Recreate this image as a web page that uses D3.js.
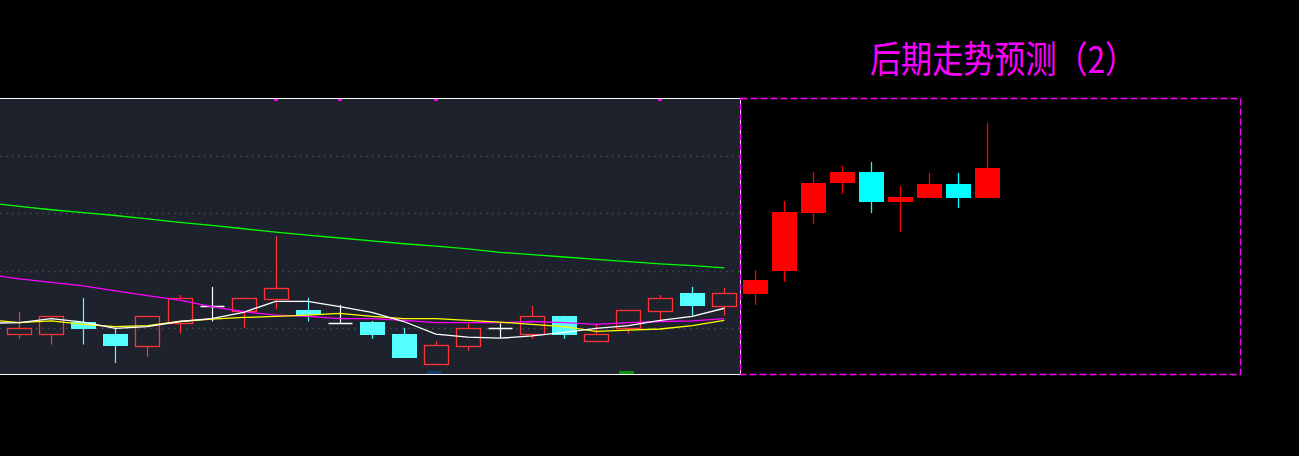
<!DOCTYPE html>
<html>
<head>
<meta charset="utf-8">
<script src="https://cdn.jsdelivr.net/npm/d3@7"></script>
<style>
  html, body { margin: 0; padding: 0; background: #000; }
  svg { display: block; }
</style>
</head>
<body>
<script>
// history candles (open, close, high, low)
const histOpen  = [8.90, 8.90, 9.11, 8.90, 8.70, 9.09, 9.39, 9.30, 9.51, 9.32, 9.10, 9.11, 8.90, 8.39, 8.70, 9.00, 8.90, 9.22, 8.79, 9.00, 9.30, 9.62, 9.39];
const histClose = [9.00, 9.21, 9.01, 8.72, 9.21, 9.52, 9.39, 9.52, 9.71, 9.25, 9.10, 8.90, 8.51, 8.71, 9.01, 9.00, 9.21, 8.91, 8.90, 9.32, 9.53, 9.41, 9.62];
const histHigh  = [9.29, 9.21, 9.53, 9.01, 9.21, 9.58, 9.72, 9.52, 10.60, 9.53, 9.41, 9.13, 9.01, 8.78, 9.09, 9.09, 9.39, 9.22, 9.07, 9.32, 9.58, 9.72, 9.70];
const histLow   = [8.82, 8.72, 8.72, 8.40, 8.51, 8.91, 9.12, 9.01, 9.33, 9.12, 9.10, 8.82, 8.51, 8.39, 8.61, 8.83, 8.82, 8.82, 8.79, 8.91, 9.15, 9.22, 9.22];

// moving averages, first value belongs to the bar just left of the window
const maGreen   = [11.18, 11.12, 11.06, 11.01, 10.96, 10.90, 10.84, 10.79, 10.73, 10.67, 10.62, 10.57, 10.52, 10.47, 10.43, 10.38, 10.32, 10.28, 10.24, 10.20, 10.16, 10.12, 10.09, 10.05];
const maMagenta = [9.94, 9.86, 9.80, 9.74, 9.65, 9.57, 9.49, 9.38, 9.29, 9.23, 9.21, 9.17, 9.17, 9.14, 9.10, 9.10, 9.10, 9.12, 9.10, 9.07, 9.10, 9.12, 9.13, 9.17];
const maYellow  = [9.15, 9.10, 9.13, 9.07, 9.03, 9.05, 9.12, 9.16, 9.19, 9.21, 9.23, 9.26, 9.21, 9.17, 9.17, 9.14, 9.11, 9.07, 9.03, 8.95, 8.97, 8.99, 9.05, 9.14];
const maWhite   = [9.09, 9.10, 9.17, 9.11, 9.00, 9.03, 9.12, 9.17, 9.28, 9.47, 9.47, 9.38, 9.28, 9.12, 8.90, 8.85, 8.83, 8.87, 8.93, 9.00, 9.05, 9.14, 9.21, 9.35];

// forecast candles
const fcOpen  = [9.60, 10.00, 11.00, 11.52, 11.72, 11.19, 11.26, 11.51, 11.26];
const fcClose = [9.84, 11.02, 11.52, 11.72, 11.19, 11.28, 11.51, 11.26, 11.79];
const fcHigh  = [10.01, 11.21, 11.72, 11.82, 11.89, 11.47, 11.70, 11.70, 12.57];
const fcLow   = [9.41, 9.81, 10.82, 11.34, 11.00, 10.67, 11.26, 11.09, 11.26];

const gridValues = [9, 10, 11, 12];
const topSignals = [8, 10, 13, 20];
const bottomMarks = [13, 19];
const bottomColors = ["#0c3c6e", "#0f8c12"];
const title = "后期走势预测（2）";

const width = 1299, height = 456;
const svg = d3.select("body").append("svg")
    .attr("width", width)
    .attr("height", height)
    .style("background", "#000");

const panelTop = 98, panelBottom = 374, panelRight = 740;
const y = d3.scaleLinear().domain([8.2, 13.0]).range([374.5, 98]);
const xHist = d3.scalePoint().domain(d3.range(-1, 23)).range([-12.75, 724.3]);
const xFc = d3.scalePoint().domain(d3.range(9)).range([755.3, 986.7]);
const bodyW = 24;

svg.append("defs").append("clipPath").attr("id", "clipL")
  .append("rect").attr("x", 0).attr("y", panelTop).attr("width", panelRight).attr("height", panelBottom - panelTop);

// left panel background
svg.append("rect")
    .attr("x", 0).attr("y", panelTop)
    .attr("width", panelRight).attr("height", panelBottom - panelTop)
    .attr("fill", "#1e222d");

// dotted grid
svg.append("g").selectAll("line").data(gridValues).join("line")
    .attr("x1", 0).attr("x2", panelRight)
    .attr("y1", d => Math.round(y(d)) + 0.5).attr("y2", d => Math.round(y(d)) + 0.5)
    .attr("stroke", "#454a56")
    .attr("stroke-width", 1.5)
    .attr("stroke-dasharray", "1.5,4.5");

const gL = svg.append("g").attr("clip-path", "url(#clipL)");

// history candles
const hist = histOpen.map((o, i) => ({i, o, c: histClose[i], h: histHigh[i], l: histLow[i]}));
const px = v => Math.round(v) + 0.5;

hist.forEach(d => {
  const cx = px(xHist(d.i));
  const top = Math.round(y(Math.max(d.o, d.c))) + 0.5;
  const bot = Math.round(y(Math.min(d.o, d.c))) + 0.5;
  const left = Math.round(xHist(d.i) - bodyW / 2) + 0.5;
  if (d.o === d.c) {
    gL.append("line").attr("x1", cx).attr("x2", cx).attr("y1", y(d.h)).attr("y2", y(d.l))
        .attr("stroke", "#fff").attr("stroke-width", 1.2);
    gL.append("line").attr("x1", left).attr("x2", left + bodyW).attr("y1", top).attr("y2", top)
        .attr("stroke", "#fff").attr("stroke-width", 1.5);
  } else if (d.c > d.o) {
    const col = "#ff3333";
    gL.append("line").attr("x1", cx).attr("x2", cx).attr("y1", y(d.h)).attr("y2", top)
        .attr("stroke", col).attr("stroke-width", 1.2);
    gL.append("line").attr("x1", cx).attr("x2", cx).attr("y1", bot).attr("y2", y(d.l))
        .attr("stroke", col).attr("stroke-width", 1.2);
    gL.append("rect").attr("x", left).attr("y", top).attr("width", bodyW).attr("height", Math.max(1, bot - top))
        .attr("fill", "none").attr("stroke", col).attr("stroke-width", 1.3);
  } else {
    const col = "#55ffff";
    gL.append("line").attr("x1", cx).attr("x2", cx).attr("y1", y(d.h)).attr("y2", y(d.l))
        .attr("stroke", col).attr("stroke-width", 1.2);
    gL.append("rect").attr("x", left - 0.5).attr("y", top - 0.5).attr("width", bodyW + 1).attr("height", Math.max(2, bot - top + 1))
        .attr("fill", col);
  }
});

// moving averages
const line = d3.line()
    .x((d, i) => xHist(i - 1))
    .y(d => y(d));

[[maGreen, "#00ff00"], [maMagenta, "#ff00ff"], [maYellow, "#ffff00"], [maWhite, "#ffffff"]].forEach(([vals, col]) => {
  gL.append("path")
      .datum(vals)
      .attr("fill", "none")
      .attr("stroke", col)
      .attr("stroke-width", 1.3)
      .attr("d", line);
});

// signal markers on top / bottom edge
svg.append("g").selectAll("rect").data(topSignals).join("rect")
    .attr("x", d => Math.round(xHist(d)) - 2).attr("y", panelTop)
    .attr("width", 4).attr("height", 3)
    .attr("fill", "#ff00ff");

svg.append("g").selectAll("rect").data(bottomMarks).join("rect")
    .attr("x", d => Math.round(xHist(d)) - 9).attr("y", panelBottom - 3)
    .attr("width", 15).attr("height", 3)
    .attr("fill", (d, i) => bottomColors[i]);

// panel edges
svg.append("line").attr("x1", 0).attr("x2", panelRight).attr("y1", panelTop + 0.5).attr("y2", panelTop + 0.5)
    .attr("stroke", "#fff");
svg.append("line").attr("x1", 0).attr("x2", panelRight).attr("y1", panelBottom + 0.5).attr("y2", panelBottom + 0.5)
    .attr("stroke", "#fff");
svg.append("line").attr("x1", panelRight + 0.5).attr("x2", panelRight + 0.5).attr("y1", panelTop).attr("y2", panelBottom)
    .attr("stroke", "#fff");

// forecast box
svg.append("rect")
    .attr("x", panelRight + 0.5).attr("y", panelTop + 0.5)
    .attr("width", 500).attr("height", panelBottom - panelTop)
    .attr("fill", "none")
    .attr("stroke", "#ff00ff")
    .attr("stroke-width", 1.3)
    .attr("stroke-dasharray", "7,3");

// forecast candles
const fc = fcOpen.map((o, i) => ({i, o, c: fcClose[i], h: fcHigh[i], l: fcLow[i]}));
const gF = svg.append("g");
gF.selectAll("line").data(fc).join("line")
    .attr("x1", d => px(xFc(d.i))).attr("x2", d => px(xFc(d.i)))
    .attr("y1", d => y(d.h)).attr("y2", d => y(d.l))
    .attr("stroke", d => d.c >= d.o ? "#ff0000" : "#00ffff")
    .attr("stroke-width", 1.3);
gF.selectAll("rect").data(fc).join("rect")
    .attr("x", d => Math.round(xFc(d.i) - 12))
    .attr("y", d => Math.round(y(Math.max(d.o, d.c))))
    .attr("width", 25)
    .attr("height", d => Math.max(2, Math.round(y(Math.min(d.o, d.c))) - Math.round(y(Math.max(d.o, d.c)))))
    .attr("fill", d => d.c >= d.o ? "#ff0000" : "#00ffff");

// title
svg.append("text")
    .attr("x", 870)
    .attr("y", 73)
    .attr("fill", "#ff00ff")
    .attr("font-family", "'Noto Sans CJK SC', sans-serif")
    .attr("font-size", "37px")
    .attr("textLength", 266)
    .attr("lengthAdjust", "spacingAndGlyphs")
    .text(title);
</script>
</body>
</html>
